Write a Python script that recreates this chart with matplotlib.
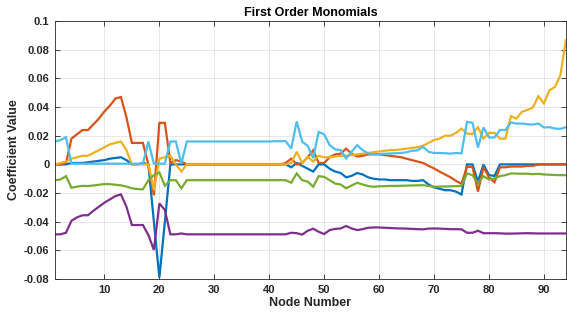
import numpy as np
import matplotlib
matplotlib.use("Agg")
import matplotlib.pyplot as plt
from matplotlib.ticker import FuncFormatter, MultipleLocator

# ── coefficient values per node (rows of 10 nodes) ───────────────────────────
nodes = np.arange(1, 95)

coef_blue = [
    0, 0, 0, 0.001, 0.001, 0.001, 0.0015, 0.002, 0.0025, 0.003,
    0.004, 0.0045, 0.005, 0.003, 0, 0, 0.001, 0, -0.04, -0.079,
    -0.04, 0, 0, 0, 0, 0, 0, 0, 0, 0,
    0, 0, 0, 0, 0, 0, 0, 0, 0, 0,
    0, 0, 0, -0.002, 0.001, -0.001, -0.003, -0.005, 0, 0,
    -0.003, -0.005, -0.006, -0.009, -0.008, -0.006, -0.007, -0.009, -0.01, -0.0105,
    -0.0105, -0.011, -0.011, -0.011, -0.011, -0.0115, -0.0115, -0.011, -0.014, -0.016,
    -0.017, -0.018, -0.018, -0.019, -0.021, 0, 0, -0.012, 0, -0.0075,
    -0.008, 0, 0, 0, 0, 0, 0, 0, 0, 0,
    0, 0, 0, 0,
]

coef_orange = [
    0, 0, 0.001, 0.018, 0.021, 0.024, 0.024, 0.028, 0.032, 0.037,
    0.041, 0.046, 0.047, 0.033, 0.015, 0.015, 0.015, 0, -0.0215, 0.029,
    0.029, 0.001, 0.003, 0.002, 0, 0, 0, 0, 0, 0,
    0, 0, 0, 0, 0, 0, 0, 0, 0, 0,
    0, 0, 0.001, 0.004, 0, 0.001, 0.005, 0.0098, 0.001, 0.001,
    0.005, 0.007, 0.0075, 0.011, 0.0075, 0.0055, 0.006, 0.007, 0.007, 0.007,
    0.0065, 0.006, 0.0055, 0.005, 0.004, 0.003, 0.002, 0.001, -0.001, -0.0028,
    -0.005, -0.007, -0.009, -0.0115, -0.0135, -0.0017, -0.0017, -0.019, -0.002, -0.009,
    -0.0125, -0.002, -0.002, -0.0015, -0.0015, -0.0015, -0.001, -0.001, 0, 0,
    0, 0, 0, 0,
]

coef_yellow = [
    0, 0.001, 0.002, 0.004, 0.005, 0.006, 0.006, 0.008, 0.010, 0.012,
    0.014, 0.015, 0.016, 0.010, 0, 0, 0, 0, -0.018, 0.004,
    0.005, 0.006, 0, -0.005, 0, 0, 0, 0, 0, 0,
    0, 0, 0, 0, 0, 0, 0, 0, 0, 0,
    0, 0, 0, 0.001, 0.0088, 0.001, 0.0053, 0.002, 0.006, 0.005,
    0.005, 0.0055, 0.006, 0.006, 0.0065, 0.007, 0.0075, 0.008, 0.0085, 0.009,
    0.0095, 0.01, 0.01, 0.0105, 0.011, 0.0115, 0.012, 0.013, 0.015, 0.017,
    0.018, 0.020, 0.020, 0.022, 0.025, 0.0216, 0.021, 0.026, 0.018, 0.022,
    0.022, 0.018, 0.018, 0.0337, 0.032, 0.0367, 0.038, 0.0397, 0.0476, 0.0425,
    0.0518, 0.054, 0.0622, 0.0866,
]

coef_purple = [
    -0.0488, -0.0488, -0.0477, -0.0393, -0.037, -0.0355, -0.0355, -0.0323, -0.0295, -0.0267,
    -0.0244, -0.0221, -0.0209, -0.0295, -0.0423, -0.0423, -0.0423, -0.0493, -0.0597, -0.0272,
    -0.0318, -0.0488, -0.0488, -0.0482, -0.0488, -0.0488, -0.0488, -0.0488, -0.0488, -0.0488,
    -0.0488, -0.0488, -0.0488, -0.0488, -0.0488, -0.0488, -0.0488, -0.0488, -0.0488, -0.0488,
    -0.0488, -0.0488, -0.0488, -0.0477, -0.048, -0.049, -0.0463, -0.0449, -0.047, -0.0486,
    -0.0458, -0.045, -0.0447, -0.043, -0.0447, -0.0458, -0.0452, -0.0442, -0.044, -0.044,
    -0.0442, -0.0444, -0.0446, -0.0447, -0.0448, -0.045, -0.0452, -0.0453, -0.0448, -0.0447,
    -0.0448, -0.045, -0.0452, -0.0452, -0.0453, -0.0477, -0.0477, -0.0463, -0.048, -0.048,
    -0.048, -0.0481, -0.0483, -0.0483, -0.0482, -0.0481, -0.048, -0.0481, -0.0482, -0.0482,
    -0.0482, -0.0482, -0.0482, -0.0482,
]

coef_green = [
    -0.011, -0.0105, -0.0082, -0.0163, -0.0155, -0.015, -0.0151, -0.0147, -0.0142, -0.0137,
    -0.0138, -0.0142, -0.0146, -0.0155, -0.0167, -0.0172, -0.0174, -0.011, -0.0075, -0.0056,
    -0.0149, -0.011, -0.011, -0.0167, -0.011, -0.011, -0.011, -0.011, -0.011, -0.011,
    -0.011, -0.011, -0.011, -0.011, -0.011, -0.011, -0.011, -0.011, -0.011, -0.011,
    -0.011, -0.011, -0.011, -0.0128, -0.0063, -0.011, -0.012, -0.0156, -0.0082, -0.0087,
    -0.011, -0.0134, -0.014, -0.0167, -0.0147, -0.0128, -0.014, -0.0151, -0.0156, -0.0153,
    -0.0152, -0.015, -0.015, -0.0149, -0.0148, -0.0147, -0.0146, -0.0145, -0.015, -0.0156,
    -0.0155, -0.0154, -0.0153, -0.0152, -0.015, -0.0063, -0.0075, -0.0133, -0.0082, -0.0105,
    -0.0098, -0.0082, -0.0075, -0.0063, -0.0064, -0.0065, -0.0065, -0.0068, -0.0066, -0.007,
    -0.0072, -0.0074, -0.0075, -0.0075,
]

coef_cyan = [
    0.016, 0.017, 0.019, 0.0005, 0.0005, 0.0005, 0.0005, 0.0005, 0.0005, 0.0005,
    0.0005, 0.0005, 0.0005, 0.0005, 0.0005, 0.0005, 0.0005, 0.016, 0.0005, 0.0005,
    0.0005, 0.016, 0.016, 0.0005, 0.016, 0.016, 0.016, 0.016, 0.016, 0.016,
    0.016, 0.016, 0.016, 0.016, 0.016, 0.016, 0.016, 0.016, 0.016, 0.016,
    0.0162, 0.0162, 0.0162, 0.011, 0.030, 0.0158, 0.013, 0.0044, 0.0227, 0.021,
    0.0135, 0.0105, 0.010, 0.0042, 0.0088, 0.0134, 0.010, 0.0077, 0.0072, 0.0072,
    0.0074, 0.0076, 0.0078, 0.008, 0.0085, 0.0095, 0.0098, 0.0123, 0.0088, 0.008,
    0.008, 0.0078, 0.0075, 0.008, 0.0077, 0.0297, 0.029, 0.0118, 0.0258, 0.0188,
    0.0188, 0.024, 0.024, 0.0293, 0.0285, 0.0285, 0.028, 0.0278, 0.0285, 0.0258,
    0.026, 0.025, 0.0248, 0.026,
]

series = [coef_blue, coef_orange, coef_yellow, coef_purple, coef_green, coef_cyan]
colors = ["#0072BD", "#D95319", "#EDB120", "#7E2F8E", "#77AC30", "#4DBEEE"]

plt.rcParams["font.family"] = ["Liberation Sans", "DejaVu Sans"]
plt.rcParams["font.weight"] = "bold"

fig = plt.figure(figsize=(5.67, 3.2), dpi=100)
ax = fig.add_axes([0.097, 0.128, 0.901, 0.806])

for vals, c in zip(series, colors):
    ax.plot(nodes, vals, color=c, lw=1.6, solid_joinstyle="miter")

ax.set_xlim(1, 94)
ax.set_ylim(-0.08, 0.1)
ax.xaxis.set_major_locator(MultipleLocator(10))
ax.yaxis.set_major_locator(MultipleLocator(0.02))
ax.yaxis.set_major_formatter(FuncFormatter(lambda v, _: "0" if abs(v) < 1e-9 else f"{v:g}"))

edge = "#262626"
ax.grid(True, color="#262626", alpha=0.13, lw=0.6)
ax.set_axisbelow(True)
for s in ax.spines.values():
    s.set_color(edge)
    s.set_linewidth(0.6)
ax.tick_params(direction="in", length=3.5, width=0.6, colors=edge,
               top=True, right=True, labelsize=8, pad=4)
for lbl in ax.get_xticklabels() + ax.get_yticklabels():
    lbl.set_fontweight("bold")

ax.set_title("First Order Monomials", fontsize=9, fontweight="bold", color="black", pad=4)
ax.set_xlabel("Node Number", fontsize=9, fontweight="bold", color=edge, labelpad=2)
ax.set_ylabel("Coefficient Value", fontsize=9, fontweight="bold", color=edge, labelpad=3)

fig.savefig("out.png", dpi=100)
plt.close(fig)
